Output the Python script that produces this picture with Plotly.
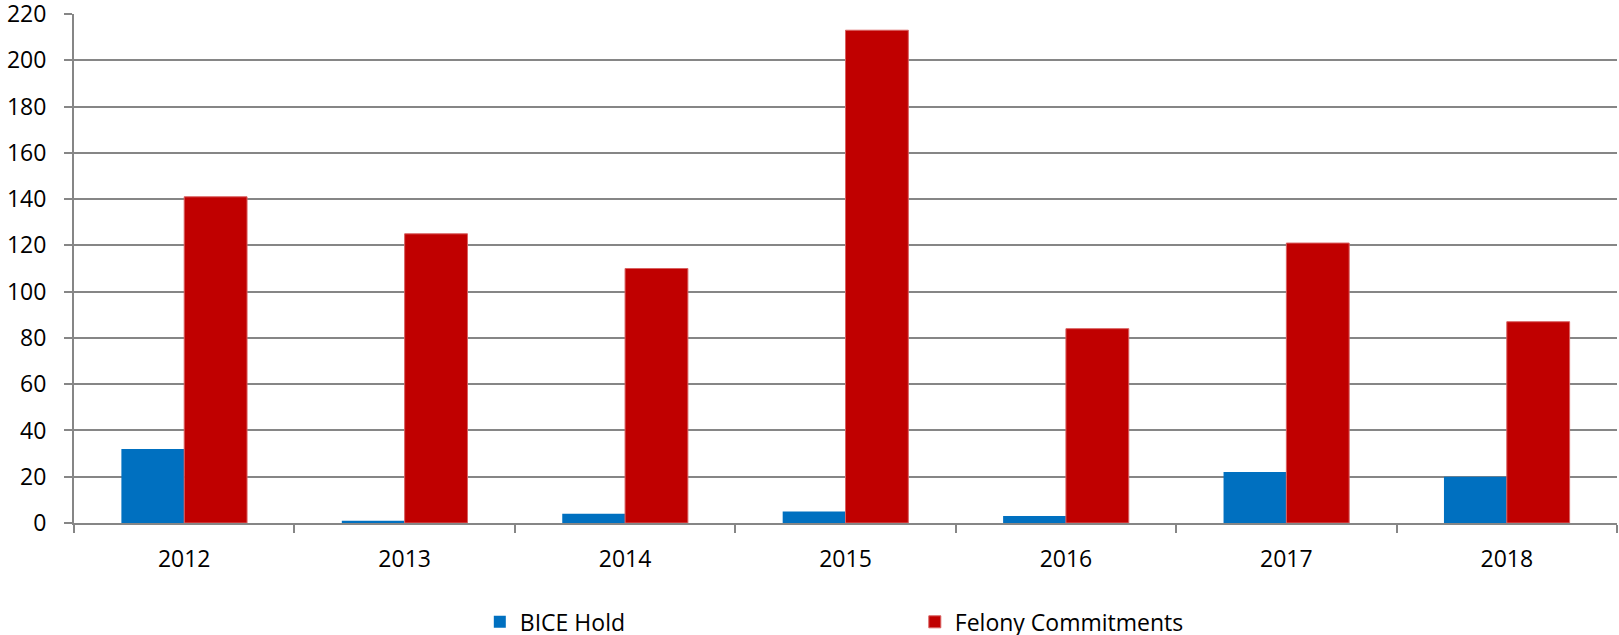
import plotly.graph_objects as go

years = ["2012", "2013", "2014", "2015", "2016", "2017", "2018"]
bice_hold = [32, 1, 4, 5, 3, 22, 20]
felony_commitments = [141, 125, 110, 213, 84, 121, 87]
y_ticks = [0, 20, 40, 60, 80, 100, 120, 140, 160, 180, 200, 220]

fig = go.Figure()
fig.add_trace(go.Bar(
    x=years, y=bice_hold, name="BICE Hold",
    marker=dict(color="#0070C0", line=dict(width=0)),
))
fig.add_trace(go.Bar(
    x=years, y=felony_commitments, name="Felony Commitments",
    marker=dict(color="#C00000", line=dict(width=1, color="#D96060")),
))

font_family = "Open Sans, Lato, sans-serif"
fs = 23

fig.update_layout(
    width=1619, height=645,
    margin=dict(l=74, r=2, t=14, b=122, autoexpand=False),
    paper_bgcolor="white", plot_bgcolor="white",
    barmode="group", bargap=0.43, bargroupgap=0,
    font=dict(family=font_family, size=fs, color="#000000"),
    showlegend=True,
    legend=dict(
        orientation="h", x=0.263, xanchor="left", y=-0.152, yanchor="top",
        entrywidth=390, entrywidthmode="pixels",
        font=dict(family=font_family, size=fs, color="#000000"),
        itemwidth=30, tracegroupgap=0,
    ),
)
fig.update_xaxes(
    type="category", automargin=False,
    showline=True, linecolor="#868686", linewidth=2,
    ticks="outside", tickson="boundaries", ticklen=8, tickcolor="#868686", tickwidth=2,
    showgrid=False, ticklabelstandoff=14,
    tickfont=dict(family=font_family, size=fs, color="#000000"),
)
fig.update_yaxes(
    range=[0, 220.01], tickvals=y_ticks, automargin=False,
    ticklabeloverflow="allow",
    showline=True, linecolor="#868686", linewidth=2,
    ticks="outside", ticklen=8, tickcolor="#868686", tickwidth=2,
    showgrid=True, gridcolor="#868686", gridwidth=1.5,
    zeroline=False, ticklabelstandoff=13,
    tickfont=dict(family=font_family, size=fs, color="#000000"),
)

fig.write_html(
    "out.html",
    config={"displayModeBar": False},
    post_script="document.body.style.margin='0';document.body.style.overflow='hidden';",
)
